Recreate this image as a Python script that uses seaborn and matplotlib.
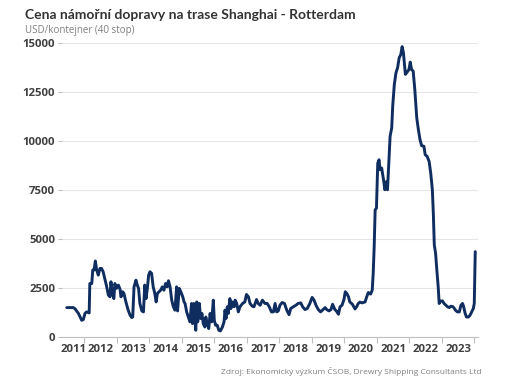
import numpy as np
import pandas as pd
import matplotlib
matplotlib.use("Agg")
import matplotlib.pyplot as plt
import seaborn as sns
from matplotlib.ticker import FixedLocator, FixedFormatter

# approx. time in decimal years and price in USD per 40ft container
roky = [2011.46, 2011.66, 2011.71, 2011.82, 2011.92, 2011.97, 2012.02, 2012.07, 2012.15, 2012.17,
        2012.23, 2012.26, 2012.30, 2012.34, 2012.38, 2012.43, 2012.48, 2012.53, 2012.58, 2012.64,
        2012.69, 2012.74, 2012.79, 2012.82, 2012.86, 2012.91, 2012.94, 2012.99, 2013.05, 2013.10,
        2013.13, 2013.18, 2013.22, 2013.28, 2013.35, 2013.41, 2013.46, 2013.49, 2013.53, 2013.59,
        2013.63, 2013.67, 2013.71, 2013.77, 2013.82, 2013.86, 2013.90, 2013.94, 2013.98, 2014.02,
        2014.07, 2014.12, 2014.17, 2014.21, 2014.25, 2014.30, 2014.35, 2014.40, 2014.45, 2014.50,
        2014.55, 2014.59, 2014.64, 2014.69, 2014.74, 2014.79, 2014.84, 2014.87, 2014.92, 2014.97,
        2015.03, 2015.07, 2015.10, 2015.15, 2015.20, 2015.25, 2015.30, 2015.33, 2015.37, 2015.43,
        2015.46, 2015.49, 2015.54, 2015.58, 2015.62, 2015.66, 2015.71, 2015.74, 2015.78, 2015.83,
        2015.87, 2015.92, 2015.97, 2016.00, 2016.04, 2016.09, 2016.14, 2016.19, 2016.25, 2016.30,
        2016.33, 2016.36, 2016.40, 2016.43, 2016.48, 2016.51, 2016.55, 2016.61, 2016.64, 2016.69,
        2016.74, 2016.79, 2016.87, 2016.94, 2016.99, 2017.05, 2017.10, 2017.17, 2017.22, 2017.30,
        2017.35, 2017.41, 2017.48, 2017.56, 2017.63, 2017.69, 2017.76, 2017.82, 2017.87, 2017.92,
        2017.97, 2018.02, 2018.09, 2018.16, 2018.23, 2018.30, 2018.35, 2018.43, 2018.51, 2018.58,
        2018.66, 2018.72, 2018.79, 2018.86, 2018.94, 2019.01, 2019.07, 2019.13, 2019.20, 2019.27,
        2019.33, 2019.41, 2019.46, 2019.53, 2019.59, 2019.64, 2019.71, 2019.76, 2019.82, 2019.87,
        2019.93, 2019.99, 2020.03, 2020.08, 2020.13, 2020.17, 2020.25, 2020.33, 2020.39, 2020.43,
        2020.48, 2020.55, 2020.64, 2020.69, 2020.74, 2020.81, 2020.86, 2020.89, 2020.92, 2020.95,
        2020.99, 2021.03, 2021.07, 2021.10, 2021.15, 2021.20, 2021.25, 2021.30, 2021.33, 2021.37,
        2021.41, 2021.46, 2021.49, 2021.54, 2021.59, 2021.64, 2021.69, 2021.74, 2021.78, 2021.82,
        2021.88, 2021.94, 2021.99, 2022.03, 2022.07, 2022.12, 2022.17, 2022.23, 2022.28, 2022.33,
        2022.38, 2022.45, 2022.49, 2022.55, 2022.61, 2022.66, 2022.71, 2022.74, 2022.77, 2022.81,
        2022.84, 2022.89, 2022.92, 2022.96, 2023.02, 2023.07, 2023.13, 2023.18, 2023.23, 2023.28,
        2023.35, 2023.42, 2023.48, 2023.54, 2023.59, 2023.64, 2023.67, 2023.72, 2023.76, 2023.82,
        2023.87, 2023.92, 2023.97, 2024.00, 2024.03]
cena = [1500, 1500, 1450, 1200, 850, 890, 1200, 1280, 1230, 2730,
        2730, 3420, 3420, 3880, 3420, 3160, 3500, 3500, 3330, 2900,
        2560, 2140, 2050, 2820, 2220, 1960, 2730, 2480, 2650, 2430,
        2050, 2310, 2220, 1790, 1370, 1110, 990, 1020, 2560, 2900,
        2650, 2480, 1710, 1330, 1280, 2650, 1960, 2480, 3160, 3330,
        3250, 2560, 2220, 1790, 2220, 2310, 2390, 2560, 2390, 2730,
        2560, 2870, 2560, 1880, 1540, 1370, 2560, 1330, 2480, 2310,
        2050, 1790, 1710, 1280, 1020, 770, 1710, 680, 1710, 340,
        1790, 770, 1710, 940, 1200, 680, 510, 1020, 680, 430,
        1200, 770, 1880, 850, 600, 600, 340, 310, 510, 770,
        1370, 940, 1540, 1200, 1960, 1450, 1790, 1540, 1880, 1710,
        1280, 1540, 1710, 1790, 2170, 2050, 1710, 1570, 1540, 1910,
        1710, 1620, 1880, 1710, 1710, 1540, 1280, 1280, 1710, 1280,
        1330, 1620, 1760, 1710, 1370, 1140, 1450, 1540, 1620, 1710,
        1740, 1540, 1400, 1450, 1710, 2020, 1880, 1620, 1400, 1280,
        1370, 1500, 1400, 1330, 1400, 1670, 1400, 1320, 1160, 1540,
        1620, 1910, 2310, 2220, 2050, 1790, 1670, 1430, 1570, 1710,
        1780, 1740, 1790, 2050, 2270, 2190, 2390, 3250, 4610, 6490,
        6580, 8880, 9050, 8540, 8630, 8110, 7520, 7940, 7520, 8880,
        10250, 10680, 11790, 12900, 13490, 13750, 14260, 14430, 14830, 14520,
        13410, 13540, 13660, 14040, 13660, 13580, 12640, 11190, 10590, 10080,
        9770, 9740, 9310, 9220, 8970, 8370, 7520, 6320, 4700, 4270,
        3590, 2560, 1710, 1830, 1840, 1710, 1620, 1540, 1500, 1570,
        1540, 1370, 1280, 1280, 1620, 1710, 1570, 1200, 1020, 1020,
        1110, 1280, 1450, 1710, 4360]

roky_hranice = list(range(2012, 2025))
popisky_pozice = [2011.66] + [r + 0.5 for r in range(2012, 2024)]
popisky = [str(r) for r in range(2011, 2024)]
y_ticks = [0, 2500, 5000, 7500, 10000, 12500, 15000]

df = pd.DataFrame({"rok": roky, "cena": cena})

sns.set_style("white")
plt.rcParams["font.family"] = ["Open Sans", "DejaVu Sans"]

fig = plt.figure(figsize=(5.08, 3.90), dpi=100)
ax = fig.add_axes([0.122, 0.136, 0.818, 0.753])

sns.lineplot(data=df, x="rok", y="cena", ax=ax, color="#0f2d5f", linewidth=2.1)

ax.set_xlim(2011.313, 2024.10)
ax.set_ylim(0, 15000)
ax.set_xlabel("")
ax.set_ylabel("")

ax.set_yticks(y_ticks)
ax.set_yticklabels([str(v) for v in y_ticks])
ax.yaxis.grid(True, color="#e6e6e6", linewidth=0.8)
ax.set_axisbelow(True)

ax.xaxis.set_major_locator(FixedLocator(roky_hranice))
ax.xaxis.set_major_formatter(FixedFormatter([""] * len(roky_hranice)))
ax.xaxis.set_minor_locator(FixedLocator(popisky_pozice))
ax.xaxis.set_minor_formatter(FixedFormatter(popisky))

for s in ["top", "right", "left"]:
    ax.spines[s].set_visible(False)
ax.spines["bottom"].set_color("#bfbfbf")
ax.spines["bottom"].set_linewidth(0.8)

ax.tick_params(axis="x", which="major", length=4, color="#bfbfbf", width=0.8, bottom=True)
ax.tick_params(axis="x", which="minor", length=0, pad=5, labelsize=8.2, labelcolor="#404040")
ax.tick_params(axis="y", length=3, color="#bfbfbf", width=0.8, left=True, pad=2,
               labelsize=8.2, labelcolor="#404040")
for lab in ax.get_xticklabels(minor=True) + ax.get_yticklabels():
    lab.set_fontweight("bold")

fig.text(0.049, 0.962, "Cena námořní dopravy na trase Shanghai - Rotterdam",
         fontsize=10, fontweight="bold", color="#333333", va="center", ha="left",
         family=["Lato", "DejaVu Sans"])
fig.text(0.049, 0.923, "USD/kontejner (40 stop)", fontsize=7.0, color="#7f7f7f",
         va="center", ha="left")
fig.text(0.948, 0.047, "Zdroj: Ekonomický výzkum ČSOB, Drewry Shipping Consultants Ltd",
         fontsize=6, color="#7f7f7f", va="center", ha="right")

fig.savefig("out.png", dpi=100)
